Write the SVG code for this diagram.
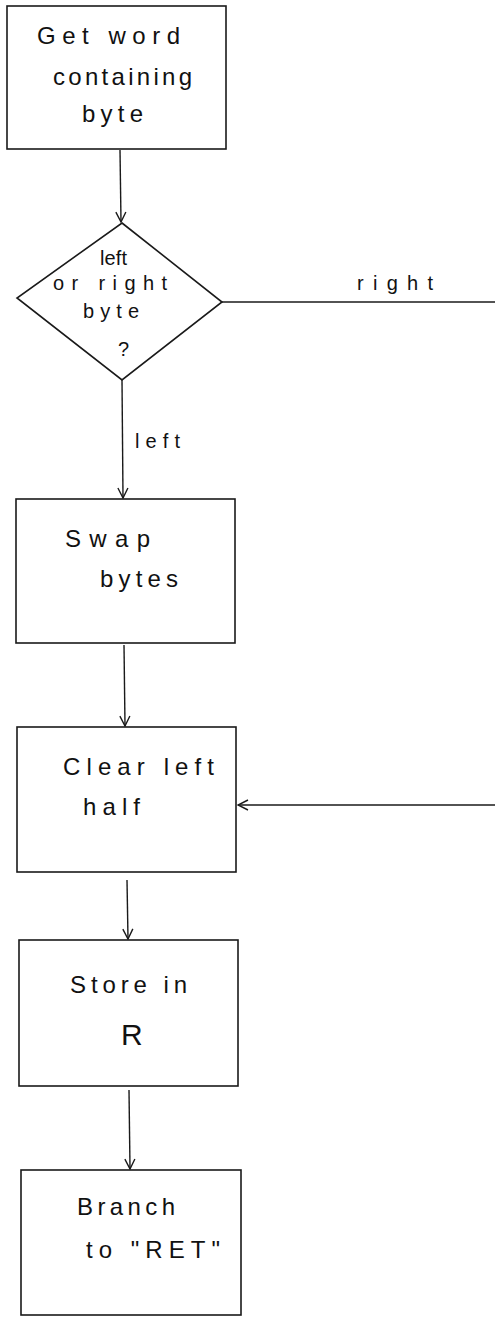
<svg xmlns="http://www.w3.org/2000/svg" width="495" height="1318" viewBox="0 0 495 1318">
<defs>
<style>
.box{fill:none;stroke:#1a1a1a;stroke-width:1.6}
.ln{fill:none;stroke:#1a1a1a;stroke-width:1.4}
.t{font-family:"Liberation Sans","DejaVu Sans",sans-serif;font-size:24px;fill:#111}
.s{font-family:"Liberation Sans","DejaVu Sans",sans-serif;font-size:20px;fill:#111}
</style>
<marker id="ah" viewBox="0 0 12 12" refX="11" refY="6" markerWidth="12" markerHeight="12" markerUnits="userSpaceOnUse" orient="auto">
<path d="M1,1 L11,6 L1,11" fill="none" stroke="#1a1a1a" stroke-width="1.4"/>
</marker>
</defs>
<rect width="495" height="1318" fill="#fff"/>
<g id="connectors">
<line class="ln" x1="120" y1="150" x2="121" y2="222" marker-end="url(#ah)"/>
<line class="ln" x1="222" y1="302" x2="495" y2="302"/>
<line class="ln" x1="122" y1="380" x2="123" y2="498" marker-end="url(#ah)"/>
<line class="ln" x1="124" y1="645" x2="125" y2="726" marker-end="url(#ah)"/>
<line class="ln" x1="495" y1="805" x2="238" y2="805" marker-end="url(#ah)"/>
<line class="ln" x1="127" y1="880" x2="128" y2="939" marker-end="url(#ah)"/>
<line class="ln" x1="129" y1="1090" x2="130" y2="1169" marker-end="url(#ah)"/>
<text class="s" x="357" y="290" textLength="76" lengthAdjust="spacing">right</text>
<text class="s" x="135" y="448" textLength="45" lengthAdjust="spacing">left</text>
</g>
<g id="n1">
<rect class="box" x="7" y="6" width="219" height="143"/>
<text class="t" x="37" y="44" textLength="143" lengthAdjust="spacing">Get word</text>
<text class="t" x="53" y="85" textLength="139" lengthAdjust="spacing">containing</text>
<text class="t" x="82" y="122" textLength="61" lengthAdjust="spacing">byte</text>
</g>
<g id="n2">
<polygon class="box" points="122,223 222,302 122,380 17,298"/>
<text class="s" x="100" y="265" textLength="27" lengthAdjust="spacing">left</text>
<text class="s" x="53" y="290" textLength="114" lengthAdjust="spacing">or right</text>
<text class="s" x="83" y="318" textLength="56" lengthAdjust="spacing">byte</text>
<text class="s" x="118" y="356">?</text>
</g>
<g id="n3">
<rect class="box" x="16" y="499" width="219" height="144"/>
<text class="t" x="65" y="547" textLength="85" lengthAdjust="spacing">Swap</text>
<text class="t" x="100" y="587" textLength="78" lengthAdjust="spacing">bytes</text>
</g>
<g id="n4">
<rect class="box" x="17" y="727" width="219" height="145"/>
<text class="t" x="63" y="775" textLength="151" lengthAdjust="spacing">Clear left</text>
<text class="t" x="83" y="815" textLength="57" lengthAdjust="spacing">half</text>
</g>
<g id="n5">
<rect class="box" x="19" y="940" width="219" height="146"/>
<text class="t" x="70" y="993" textLength="117" lengthAdjust="spacing">Store in</text>
<text class="t" x="121" y="1045" style="font-size:30px">R</text>
</g>
<g id="n6">
<rect class="box" x="21" y="1170" width="220" height="145"/>
<text class="t" x="77" y="1215" textLength="98" lengthAdjust="spacing">Branch</text>
<text class="t" x="86" y="1258" textLength="134" lengthAdjust="spacing">to "RET"</text>
</g>
</svg>
